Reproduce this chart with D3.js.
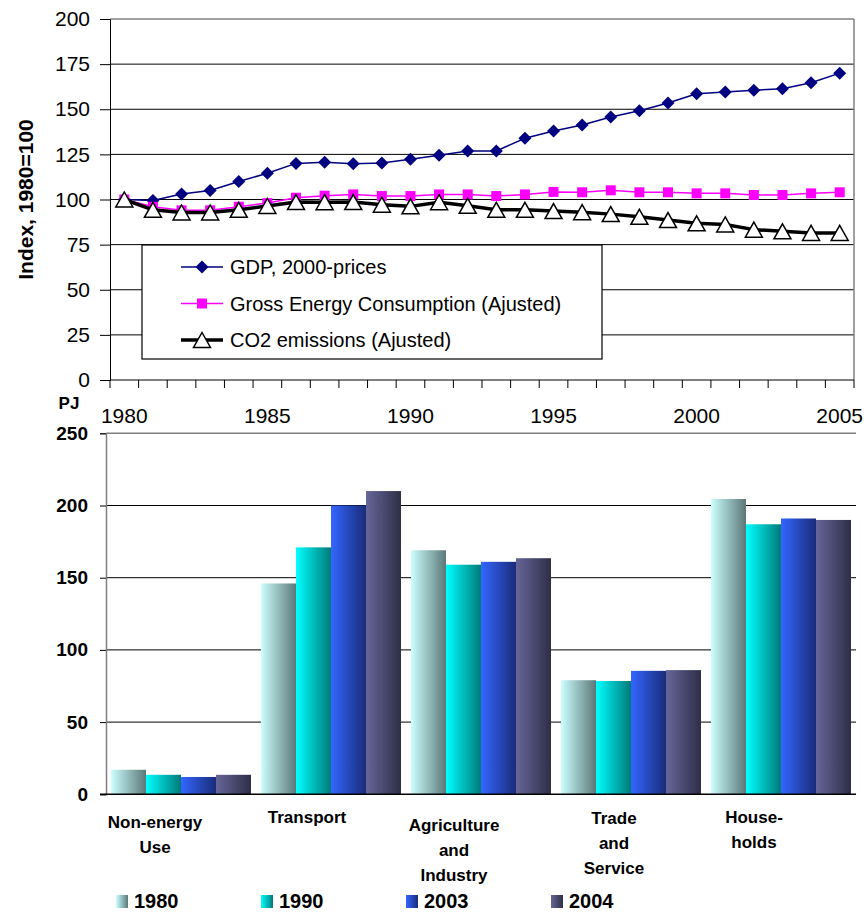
<!DOCTYPE html>
<html>
<head>
<meta charset="utf-8">
<script src="https://cdn.jsdelivr.net/npm/d3@7/dist/d3.min.js"></script>
<style>
  html, body { margin: 0; padding: 0; background: #fff; }
  svg { display: block; font-family: "Liberation Sans", Arial, sans-serif; }
</style>
</head>
<body>
<svg id="chart" width="866" height="913"></svg>
<script>
// ---------- Index chart data (1980 = 100) ----------
const years = d3.range(1980, 2006);
const gdp = [100, 99.5, 103, 105, 110, 114.5, 120, 120.6, 119.8, 120.2, 122.3, 124.5,
             126.9, 126.9, 133.9, 137.9, 141.3, 145.7, 149.2, 153.5, 158.6, 159.6,
             160.5, 161.4, 164.7, 170];
const energy = [100, 96, 94, 94, 96, 98, 101, 102.1, 102.8, 101.9, 101.9, 102.8,
                102.8, 101.9, 102.8, 104.2, 104, 105.1, 104, 104, 103.4, 103.4,
                102.5, 102.5, 103.4, 104];
const co2 = [100, 94.3, 92.8, 92.8, 94.3, 96.4, 98.6, 98.5, 98.6, 97.1, 96.2, 98.5,
             96.5, 94.3, 94.3, 93.6, 93, 91.9, 90.4, 88.6, 86.8, 86.2, 83.3, 82.4,
             81.5, 81.5];
const indexTicks = [0, 25, 50, 75, 100, 125, 150, 175, 200];
const yearLabels = [1980, 1985, 1990, 1995, 2000, 2005];
const lineNames = ["GDP, 2000-prices", "Gross Energy Consumption (Ajusted)", "CO2 emissions (Ajusted)"];

// ---------- Energy use by sector (PJ) ----------
const sectors = ["Non-energy Use", "Transport", "Agriculture and Industry", "Trade and Service", "House-holds"];
const sectorLines = [["Non-energy", "Use"], ["Transport"], ["Agriculture", "and", "Industry"],
                     ["Trade", "and", "Service"], ["House-", "holds"]];
const barYears = ["1980", "1990", "2003", "2004"];
const pj1980 = [17, 146, 169, 79, 204.5];
const pj1990 = [13.5, 171, 159, 78.5, 187];
const pj2003 = [12, 200, 161, 85.5, 191];
const pj2004 = [13.5, 210, 163.5, 86, 190];
const pjTicks = [0, 50, 100, 150, 200, 250];

const svg = d3.select("#chart");

// =============== Top chart: indexed lines ===============
const T = { left: 110, right: 854, top: 19, bottom: 380 };
const xT = d3.scaleBand().domain(years).range([T.left, T.right]);
const yT = d3.scaleLinear().domain([0, 200]).range([T.bottom, T.top]);
const cx = d => xT(d) + xT.bandwidth() / 2;

const topG = svg.append("g");

// horizontal gridlines
topG.selectAll("line.grid").data(indexTicks.filter(v => v > 0)).join("line")
  .attr("x1", T.left).attr("x2", T.right)
  .attr("y1", d => yT(d)).attr("y2", d => yT(d))
  .attr("stroke", d => d === 200 ? "#808080" : "#000")
  .attr("stroke-width", d => d === 200 ? 1.5 : 1);
// right border
topG.append("line").attr("x1", T.right).attr("x2", T.right)
  .attr("y1", T.top).attr("y2", T.bottom).attr("stroke", "#808080").attr("stroke-width", 1.5);

// y axis
const yAxisT = d3.axisLeft(yT).tickValues(indexTicks).tickSize(10).tickPadding(10);
topG.append("g").attr("transform", `translate(${T.left},0)`).call(yAxisT)
  .call(g => g.select(".domain").attr("stroke", "#000"))
  .call(g => g.selectAll(".tick line").attr("stroke", "#000"))
  .call(g => g.selectAll("text").attr("font-size", 21).attr("fill", "#000")
     .attr("font-family", "Liberation Sans, Arial, sans-serif"));

// x axis: ticks at every category boundary, labels every 5 years
const xAxisLine = topG.append("g");
xAxisLine.append("line").attr("x1", T.left).attr("x2", T.right)
  .attr("y1", T.bottom).attr("y2", T.bottom).attr("stroke", "#000");
xAxisLine.selectAll("line.tk").data(years.concat([null])).join("line")
  .attr("x1", (d, i) => i < years.length ? xT(d) : T.right)
  .attr("x2", (d, i) => i < years.length ? xT(d) : T.right)
  .attr("y1", T.bottom).attr("y2", T.bottom + 8).attr("stroke", "#000");
xAxisLine.selectAll("text").data(yearLabels).join("text")
  .attr("x", d => cx(d)).attr("y", 423)
  .attr("text-anchor", "middle").attr("font-size", 21).text(d => d);

// y title
topG.append("text")
  .attr("transform", `translate(33,${(T.top + T.bottom) / 2}) rotate(-90)`)
  .attr("text-anchor", "middle").attr("font-size", 21).attr("font-weight", "bold")
  .text("Index, 1980=100");

// markers
const diamond = "M0,-6.5L6.5,0L0,6.5L-6.5,0Z";
const square = "M-5,-5H5V5H-5Z";
const triangle = "M0,-7.5L8.5,7.5L-8.5,7.5Z";

const line = d3.line().x((d, i) => cx(years[i])).y(d => yT(d));

const series = [
  { vals: gdp, color: "#000080", width: 1.5, marker: diamond, fill: "#000080", mstroke: "none" },
  { vals: energy, color: "#FF00FF", width: 1.5, marker: square, fill: "#FF00FF", mstroke: "none" },
  { vals: co2, color: "#000", width: 3.5, marker: triangle, fill: "#fff", mstroke: "#000" }
];
series.forEach(s => {
  topG.append("path").datum(s.vals).attr("d", line)
    .attr("fill", "none").attr("stroke", s.color).attr("stroke-width", s.width)
    .attr("stroke-linejoin", "round");
  topG.selectAll(null).data(s.vals).join("path")
    .attr("transform", (d, i) => `translate(${cx(years[i])},${yT(d)})`)
    .attr("d", s.marker).attr("fill", s.fill)
    .attr("stroke", s.mstroke).attr("stroke-width", 1.5);
});

// legend
const lg = topG.append("g");
lg.append("rect").attr("x", 142).attr("y", 245).attr("width", 460).attr("height", 114)
  .attr("fill", "#fff").attr("stroke", "#000").attr("stroke-width", 1.2);
series.forEach((s, i) => {
  const yy = 267 + i * 36.5;
  lg.append("line").attr("x1", 181).attr("x2", 223).attr("y1", yy).attr("y2", yy)
    .attr("stroke", s.color).attr("stroke-width", s.width);
  lg.append("path").attr("transform", `translate(202,${yy})`).attr("d", s.marker)
    .attr("fill", s.fill).attr("stroke", s.mstroke).attr("stroke-width", 1.5);
  lg.append("text").attr("x", 230).attr("y", yy).attr("dy", "0.35em")
    .attr("font-size", 20).text(lineNames[i]);
});

// =============== Bottom chart: grouped bars ===============
const B = { left: 106, right: 856, top: 433.3, bottom: 794.3 };
const x0 = d3.scaleBand().domain(sectors).range([B.left, B.right])
  .paddingInner(10 / 150).paddingOuter(5 / 150);
const x1 = d3.scaleBand().domain(barYears).range([0, x0.bandwidth()]);
const yB = d3.scaleLinear().domain([0, 250]).range([B.bottom, B.top]);

const botG = svg.append("g");

// gradients
const grads = {
  "1980": ["#CCFFFF", "#5C7878"],
  "1990": ["#00FFFF", "#007A7A"],
  "2003": ["#3366FF", "#1A2C7A"],
  "2004": ["#666699", "#2E2E48"]
};
const defs = svg.append("defs");
barYears.forEach(k => {
  const g = defs.append("linearGradient").attr("id", "g" + k)
    .attr("x1", "0").attr("x2", "1").attr("y1", "0").attr("y2", "0");
  g.append("stop").attr("offset", "0").attr("stop-color", grads[k][0]);
  g.append("stop").attr("offset", "1").attr("stop-color", grads[k][1]);
});

// gridlines
botG.selectAll("line.grid").data(pjTicks.filter(v => v > 0)).join("line")
  .attr("x1", B.left).attr("x2", B.right)
  .attr("y1", d => yB(d)).attr("y2", d => yB(d))
  .attr("stroke", d => d === 250 ? "#808080" : "#000")
  .attr("stroke-width", d => d === 250 ? 1.5 : 1);

// y axis
const yAxisB = d3.axisLeft(yB).tickValues(pjTicks).tickSize(6).tickPadding(12);
botG.append("g").attr("transform", `translate(${B.left},0)`).call(yAxisB)
  .call(g => g.select(".domain").attr("stroke", "#808080").attr("stroke-width", 1.5))
  .call(g => g.selectAll(".tick line").attr("stroke", "#000"))
  .call(g => g.selectAll("text").attr("font-size", 19).attr("font-weight", "bold")
     .attr("fill", "#000").attr("font-family", "Liberation Sans, Arial, sans-serif"));

botG.append("text").attr("x", 69).attr("y", 409).attr("text-anchor", "middle")
  .attr("font-size", 17).attr("font-weight", "bold").text("PJ");

// bars
const barSeries = { "1980": pj1980, "1990": pj1990, "2003": pj2003, "2004": pj2004 };
sectors.forEach((s, si) => {
  const g = botG.append("g").attr("transform", `translate(${x0(s)},0)`);
  barYears.forEach(k => {
    const v = barSeries[k][si];
    g.append("rect").attr("x", x1(k)).attr("width", x1.bandwidth())
      .attr("y", yB(v)).attr("height", yB(0) - yB(v))
      .attr("fill", `url(#g${k})`);
  });
});

// x axis line
botG.append("line").attr("x1", B.left - 6).attr("x2", B.right)
  .attr("y1", B.bottom).attr("y2", B.bottom).attr("stroke", "#000").attr("stroke-width", 1.5);

// category labels
const labelShift = [{ dx: -26, dy: 5 }, { dx: -24, dy: 0 }, { dx: -27, dy: 8 }, { dx: -17, dy: 1 }, { dx: -27, dy: 0 }];
sectors.forEach((s, si) => {
  const t = botG.append("text").attr("text-anchor", "middle")
    .attr("font-size", 17).attr("font-weight", "bold");
  sectorLines[si].forEach((ln, li) => {
    t.append("tspan")
      .attr("x", x0(s) + x0.bandwidth() / 2 + labelShift[si].dx)
      .attr("y", 823 + labelShift[si].dy + li * 25)
      .text(ln);
  });
});

// legend
const bl = botG.append("g");
barYears.forEach((k, i) => {
  const lx = 116 + i * 145;
  bl.append("rect").attr("x", lx).attr("y", 895).attr("width", 12).attr("height", 13)
    .attr("fill", `url(#g${k})`);
  bl.append("text").attr("x", lx + 18).attr("y", 908).attr("font-size", 20)
    .attr("font-weight", "bold").text(k);
});
</script>
</body>
</html>
